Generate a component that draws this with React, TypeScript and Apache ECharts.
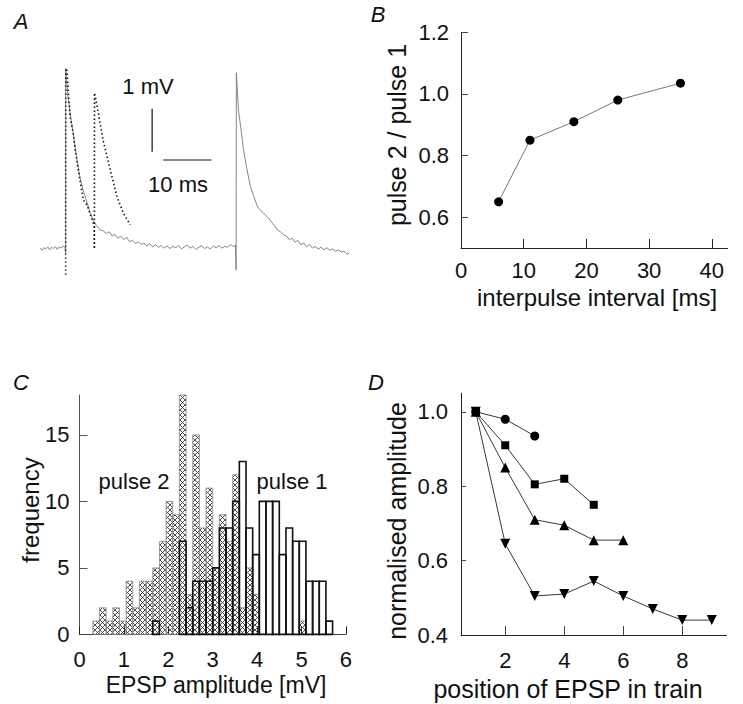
import React, { useEffect, useRef } from "react";
import * as echarts from "echarts";

const FONT = "'Liberation Sans', Arial, Helvetica, sans-serif";

// ---------- Panel A: voltage traces [time ms, mV] ----------
const traceSingle: number[][] = [
  [0, 0.02], [0.4, -0.03], [0.8, 0.03], [1.2, 0.0], [1.6, 0.05], [2.0, -0.02], [2.4, 0.04], [2.8, 0.01],
  [3.2, 0.06], [3.6, -0.01], [4.0, 0.05], [4.4, 0.02], [4.8, 0.07], [5.2, 0.03],
  [5.33, -0.1], [5.36, 4.2],
  [5.8, 3.55], [6.4, 3.05], [6.9, 2.7], [7.6, 2.15], [8.3, 1.67], [9.0, 1.35], [9.8, 1.07], [10.4, 0.85],
  [11.0, 0.67], [11.7, 0.55], [12.5, 0.44], [13.2, 0.42], [13.8, 0.36], [14.4, 0.4], [15.0, 0.3], [15.6, 0.34],
  [16.2, 0.25], [16.8, 0.3], [17.4, 0.22], [18.0, 0.27], [18.6, 0.17], [19.2, 0.2], [19.8, 0.12], [20.4, 0.17],
  [21.0, 0.1], [21.6, 0.14], [22.2, 0.07], [22.8, 0.12], [23.4, 0.05], [24.0, 0.1], [24.6, 0.04], [25.2, 0.08],
  [25.8, 0.02], [26.4, 0.07], [27.0, 0.01], [27.6, 0.06], [28.2, 0.03], [28.8, 0.08], [29.4, 0.0], [30.0, 0.05],
  [30.6, 0.09], [31.2, 0.02], [31.8, 0.06], [32.4, -0.01], [33.0, 0.04], [33.6, 0.08], [34.2, 0.01], [34.8, 0.05],
  [35.4, 0.0], [36.0, 0.07], [36.6, 0.03], [37.2, 0.08], [37.8, 0.02], [38.4, 0.06], [39.0, 0.04], [39.6, 0.1],
  [40.2, 0.06], [40.6, 0.09],
  [40.75, -0.49], [40.8, 4.1],
  [41.25, 3.23], [41.8, 2.75], [42.3, 2.3], [43.0, 1.85], [43.75, 1.44], [44.5, 1.2], [45.2, 0.98], [46.2, 0.86],
  [47.3, 0.74], [48.3, 0.6], [49.4, 0.44], [50.0, 0.4], [50.6, 0.33], [51.2, 0.3], [51.8, 0.22], [52.4, 0.25],
  [53.0, 0.16], [53.6, 0.2], [54.2, 0.1], [54.8, 0.14], [55.4, 0.05], [56.0, 0.1], [56.6, 0.02], [57.2, 0.06],
  [57.8, 0.0], [58.4, 0.04], [59.0, -0.02], [59.6, 0.03], [60.2, -0.03], [60.8, 0.0], [61.4, -0.05], [62.0, -0.02],
  [62.6, -0.07], [63.2, -0.05], [63.8, -0.12], [64.2, -0.1],
];
const tracePaired: number[][] = [
  [5.33, -0.6], [5.34, 4.2], [5.6, 4.15], [6.25, 3.07], [6.9, 2.69], [7.3, 2.3], [8.3, 1.6], [9.0, 1.14],
  [9.8, 1.02], [10.6, 0.75], [11.0, 0.63], [11.25, 0.55],
  [11.3, 0.0], [11.32, 3.63], [11.9, 3.3], [13.1, 2.53], [14.6, 1.84], [16.0, 1.21], [17.3, 0.84], [18.75, 0.56],
];
const scaleBarMV: number[][] = [[23.3, 2.26], [23.3, 3.26]];
const scaleBarMS: number[][] = [[25.6, 2.07], [35.6, 2.07]];

// ---------- Panel B ----------
const interpulseIntervals = [6, 11, 18, 25, 35];
const pulseRatios = [0.65, 0.85, 0.91, 0.98, 1.035];

// ---------- Panel C: histogram, bins of 0.15 mV from 0 ----------
const binWidth = 0.15;
const pulse1Counts = [
  0, 0, 0, 0, 0, 0, 0, 0, 0, 0,
  0, 1, 0, 0, 0, 7, 2, 4, 4, 4,
  5, 8, 8, 10, 13, 8, 6, 10, 10, 10,
  6, 8, 7, 7, 4, 4, 4, 1, 0, 0,
];
const pulse2Counts = [
  0, 0, 1, 2, 1, 2, 1, 4, 2, 4,
  4, 5, 7, 10, 9, 18, 3, 15, 8, 11,
  5, 9, 7, 12, 2, 5, 3, 0, 0, 0,
  0, 0, 0, 1, 0, 0, 0, 0, 0, 0,
];

// ---------- Panel D ----------
const trainPositions = [1, 2, 3, 4, 5, 6, 7, 8, 9];
const ampCircle = [1.0, 0.98, 0.935];
const ampSquare = [1.0, 0.91, 0.805, 0.82, 0.75];
const ampTriangleUp = [1.0, 0.85, 0.71, 0.695, 0.655, 0.655];
const ampTriangleDown = [1.0, 0.645, 0.505, 0.51, 0.545, 0.505, 0.47, 0.44, 0.44];

const pair = (xs: number[], ys: number[]) => ys.map((y, i) => [xs[i], y]);

function makeHatch(): HTMLCanvasElement {
  const c = document.createElement("canvas");
  c.width = 5;
  c.height = 5;
  const ctx = c.getContext("2d")!;
  ctx.strokeStyle = "#3a3a3a";
  ctx.lineWidth = 0.9;
  ctx.beginPath();
  ctx.moveTo(-1, -1);
  ctx.lineTo(6, 6);
  ctx.moveTo(6, -1);
  ctx.lineTo(-1, 6);
  ctx.stroke();
  return c;
}

export default function App() {
  const ref = useRef<HTMLDivElement>(null);
  useEffect(() => {
    if (!ref.current) return;
    const chart = echarts.init(ref.current, undefined, { renderer: "svg" });
    const hatch = { image: makeHatch(), repeat: "repeat" };

    const ax = (extra: any) => ({
      type: "value",
      splitLine: { show: false },
      axisLine: { show: true, onZero: false, lineStyle: { color: "#222", width: 1 } },
      axisTick: { show: true, inside: true, length: 8, lineStyle: { color: "#222", width: 1 } },
      axisLabel: { color: "#111", fontSize: 22, fontFamily: FONT },
      ...extra,
    });

    const histData = (counts: number[]) =>
      counts
        .map((c, k) => [k * binWidth, (k + 1) * binWidth, c])
        .filter((d) => d[2] > 0);

    const histRender = (fill: any, stroke: string, lw: number) => (params: any, api: any) => {
      const p0 = api.coord([api.value(0), api.value(2)]);
      const p1 = api.coord([api.value(1), 0]);
      return {
        type: "rect",
        shape: { x: p0[0], y: p0[1], width: p1[0] - p0[0], height: p1[1] - p0[1] },
        style: { fill, stroke, lineWidth: lw },
      };
    };

    const text = (t: string, x: number, y: number, extra: any = {}) => ({
      type: "text",
      x,
      y,
      rotation: extra.rotation || 0,
      style: {
        text: t,
        fill: "#111",
        font: `${extra.italic ? "italic " : ""}${extra.size || 22}px ${FONT}`,
        align: "center",
        verticalAlign: "middle",
      },
    });

    const lbl = (extra: any) => ({ color: "#111", fontSize: 22, fontFamily: FONT, ...extra });

    const option: any = {
      animation: false,
      grid: [
        { left: 40, top: 59.8, width: 308, height: 223.6, outerBoundsMode: "none" },
        { left: 461, top: 32.3, width: 266.5, height: 215.7, outerBoundsMode: "none" },
        { left: 79.5, top: 395, width: 266.4, height: 239.4, outerBoundsMode: "none" },
        { left: 461, top: 393.2, width: 265.5, height: 241.8, outerBoundsMode: "none" },
      ],
      xAxis: [
        { type: "value", gridIndex: 0, min: 0, max: 64, show: false },
        ax({
          gridIndex: 1, min: 0, max: 42.5,
          axisTick: { show: true, inside: true, length: 9, customValues: [10, 20, 30, 40], lineStyle: { color: "#222" } },
          axisLabel: lbl({ margin: 11, customValues: [0, 10, 20, 30, 40] }),
        }),
        ax({
          gridIndex: 2, min: 0, max: 6, interval: 1,
          axisLine: { show: true, onZero: false, lineStyle: { color: "#444", width: 1 } },
          axisLabel: lbl({ margin: 14 }),
        }),
        ax({
          gridIndex: 3, min: 0.5, max: 9.5,
          axisTick: { show: true, inside: true, length: 9, customValues: [2, 4, 6, 8], lineStyle: { color: "#444" } },
          axisLabel: lbl({ margin: 14, customValues: [2, 4, 6, 8] }),
        }),
      ],
      yAxis: [
        { type: "value", gridIndex: 0, min: -0.8, max: 4.4, show: false },
        ax({
          gridIndex: 1, min: 0.5, max: 1.2,
          axisTick: { show: true, inside: true, length: 7, customValues: [0.6, 0.8, 1.0, 1.2], lineStyle: { color: "#444" } },
          axisLabel: lbl({ margin: 12, customValues: [0.6, 0.8, 1.0, 1.2], formatter: (v: number) => v.toFixed(1) }),
        }),
        ax({
          gridIndex: 2, min: 0, max: 18,
          axisLine: { show: true, onZero: false, lineStyle: { color: "#555", width: 1 } },
          axisTick: { show: true, inside: true, length: 8, customValues: [5, 10, 15], lineStyle: { color: "#555" } },
          axisLabel: lbl({ margin: 10, customValues: [0, 5, 10, 15] }),
        }),
        ax({
          gridIndex: 3, min: 0.4, max: 1.05,
          axisTick: { show: true, inside: true, length: 5, customValues: [0.6, 0.8, 1.0], lineStyle: { color: "#444" } },
          axisLabel: lbl({ margin: 13, customValues: [0.4, 0.6, 0.8, 1.0], formatter: (v: number) => v.toFixed(1) }),
        }),
      ],
      series: [
        // Panel A
        {
          type: "line", xAxisIndex: 0, yAxisIndex: 0, data: traceSingle, symbol: "none",
          lineStyle: { color: "#777", width: 0.9 },
        },
        {
          type: "line", xAxisIndex: 0, yAxisIndex: 0, data: tracePaired, symbol: "none",
          lineStyle: { color: "#111", width: 1.6, type: [1.4, 2.6] },
        },
        {
          type: "line", xAxisIndex: 0, yAxisIndex: 0, data: scaleBarMV, symbol: "none",
          lineStyle: { color: "#111", width: 1.2 },
        },
        {
          type: "line", xAxisIndex: 0, yAxisIndex: 0, data: scaleBarMS, symbol: "none",
          lineStyle: { color: "#111", width: 1.2 },
        },
        // Panel B
        {
          type: "line", xAxisIndex: 1, yAxisIndex: 1, data: pair(interpulseIntervals, pulseRatios),
          symbol: "circle", symbolSize: 9, itemStyle: { color: "#000" },
          lineStyle: { color: "#777", width: 1 },
        },
        // Panel C
        {
          type: "custom", xAxisIndex: 2, yAxisIndex: 2, data: histData(pulse2Counts),
          encode: { x: [0, 1], y: 2 }, renderItem: histRender(hatch, "#888", 0.8),
        },
        {
          type: "custom", xAxisIndex: 2, yAxisIndex: 2, data: histData(pulse1Counts),
          encode: { x: [0, 1], y: 2 }, renderItem: histRender("none", "#111", 1.6),
        },
        // Panel D
        {
          type: "line", xAxisIndex: 3, yAxisIndex: 3, data: pair(trainPositions, ampTriangleDown),
          symbol: "triangle", symbolRotate: 180, symbolSize: 10, itemStyle: { color: "#000" },
          lineStyle: { color: "#222", width: 0.9 },
        },
        {
          type: "line", xAxisIndex: 3, yAxisIndex: 3, data: pair(trainPositions, ampTriangleUp),
          symbol: "triangle", symbolSize: 10, itemStyle: { color: "#000" },
          lineStyle: { color: "#222", width: 0.9 },
        },
        {
          type: "line", xAxisIndex: 3, yAxisIndex: 3, data: pair(trainPositions, ampSquare),
          symbol: "rect", symbolSize: 8, itemStyle: { color: "#000" },
          lineStyle: { color: "#222", width: 0.9 },
        },
        {
          type: "line", xAxisIndex: 3, yAxisIndex: 3, data: pair(trainPositions, ampCircle),
          symbol: "circle", symbolSize: 9, itemStyle: { color: "#000" },
          lineStyle: { color: "#222", width: 0.9 },
        },
      ],
      graphic: [
        text("A", 21, 21, { italic: true, size: 22 }),
        text("B", 378, 14, { italic: true, size: 22 }),
        text("C", 21, 382, { italic: true, size: 22 }),
        text("D", 376, 382, { italic: true, size: 22 }),
        text("1 mV", 148, 86),
        text("10 ms", 178, 184),
        text("pulse 2 / pulse 1", 397, 135, { rotation: Math.PI / 2, size: 25 }),
        text("interpulse interval [ms]", 597, 297, { size: 24 }),
        text("frequency", 30, 510, { rotation: Math.PI / 2, size: 24 }),
        text("EPSP amplitude [mV]", 216, 685, { size: 23 }),
        text("pulse 2", 134, 481),
        text("pulse 1", 292, 481),
        text("normalised amplitude", 397, 521, { rotation: Math.PI / 2, size: 25 }),
        text("position of EPSP in train", 568, 689, { size: 25 }),
      ],
    };
    chart.setOption(option);
    return () => chart.dispose();
  }, []);
  return (
    <div
      ref={ref}
      style={{ position: "absolute", left: 0, top: 0, width: 743, height: 704, background: "#fff" }}
    />
  );
}
